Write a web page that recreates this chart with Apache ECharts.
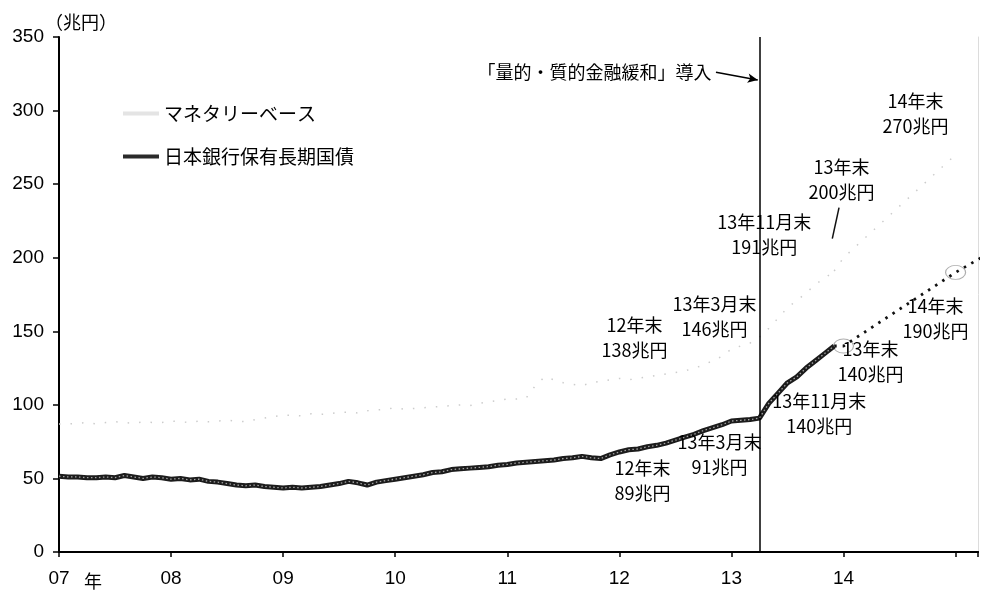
<!DOCTYPE html>
<html>
<head>
<meta charset="utf-8">
<script src="https://cdn.jsdelivr.net/npm/echarts@6/dist/echarts.min.js"></script>
<style>
html,body{margin:0;padding:0;background:#fff}
#chart{width:981px;height:593px}
</style>
</head>
<body>
<div id="chart"></div>
<script>
// Month-end balances in trillion yen, first value = end of Dec 2006
const startYear = 2006, startMonth = 12;

const monetaryBase = [
  87,
  87, 87.5, 88, 87, 88, 88.5, 88, 87.5, 88.5, 88, 88, 89,
  88.5, 88, 89, 88.5, 89, 89.5, 89, 88.5, 90, 91, 92, 93,
  93, 92.5, 94, 93.5, 94, 95, 95, 94.5, 96, 96.5, 97, 98,
  97, 97.5, 98, 98.5, 99, 99.5, 100, 99.5, 101, 102, 103, 104,
  104, 104.5, 113, 119, 117, 115, 114, 113, 115, 116, 117, 118,
  117, 118, 119, 120, 121, 122, 123, 125, 127, 130, 133, 138,
  140, 142, 146, 152, 159, 166, 171, 176, 182, 186, 191
];

const jgbHoldings = [
  51.5,
  51, 51, 50.5, 50.5, 51, 50.5, 52, 51, 50, 51, 50.5, 49.5,
  50, 49, 49.5, 48, 47.5, 46.5, 45.5, 45, 45.5, 44.5, 44, 43.5,
  44, 43.5, 44, 44.5, 45.5, 46.5, 48, 47, 45.5, 47.5, 48.5, 49.5,
  50.5, 51.5, 52.5, 54, 54.5, 56, 56.5, 57, 57.5, 58, 59, 59.5,
  60.5, 61, 61.5, 62, 62.5, 63.5, 64, 65, 64, 63.5, 66, 68,
  69.5, 70, 71.5, 72.5, 74, 76, 78, 80, 82.5, 84.5, 86.5, 89,
  89.5, 90, 91, 101, 108, 115, 119, 125, 130, 135, 140
];

// Targets under the new policy (month-end, trillion yen)
const mbTargetMonths  = ['2013-11', '2013-12', '2014-12'];
const mbTargetValues  = [191, 200, 270];
const jgbTargetMonths = ['2013-11', '2013-12', '2014-12', '2015-03'];
const jgbTargetValues = [140, 140, 190, 201];

// Annotated balances
const mbNoteMonths  = ['2012-12', '2013-03', '2013-11', '2013-12', '2014-12'];
const mbNoteTitles  = ['12年末', '13年3月末', '13年11月末', '13年末', '14年末'];
const mbNoteValues  = [138, 146, 191, 200, 270];
const jgbNoteMonths = ['2012-12', '2013-03', '2013-11', '2013-12', '2014-12'];
const jgbNoteTitles = ['12年末', '13年3月末', '13年11月末', '13年末', '14年末'];
const jgbNoteValues = [89, 91, 140, 140, 190];

const yearTicks = [2007, 2008, 2009, 2010, 2011, 2012, 2013, 2014];
const seriesNames = ['マネタリーベース', '日本銀行保有長期国債'];
const policyLabel = '「量的・質的金融緩和」導入';
const policyStart = 2013 + 93 / 365;   // 4 April 2013
const unitLabel = '（兆円）';
const yearSuffix = '年';

// ---- helpers ----
const FONT = "'Noto Sans CJK JP', 'Noto Sans', sans-serif";
const NUM_FONT = "'Liberation Sans', Arial, sans-serif";
const monthEnd = ym => { const [y, m] = ym.split('-').map(Number); return y + m / 12; };
const seriesPoints = arr => arr.map((v, i) => [startYear + (startMonth + i) / 12, v]);

// label placement (pixel offsets from each annotated point)
const mbNoteOffset  = [[-97, -11], [-45, -21], [-70, -36], [-2, -78], [-40, -41]];
const jgbNoteOffset = [[-89, 60], [-40, 37], [-15, 68], [27, 16], [-20, 46]];

function notes(months, titles, values, offsets) {
  return months.map((m, i) => ({
    coord: [monthEnd(m), values[i]],
    label: {
      formatter: titles[i] + '\n' + values[i] + '兆円',
      offset: offsets[i]
    }
  }));
}

const noteLabelStyle = {
  show: true, position: 'inside', color: '#000', fontFamily: FONT,
  fontSize: 18, lineHeight: 25, align: 'center', verticalAlign: 'middle'
};

// target points ringed by hand-drawn style circles
const circled = ['2013-12', '2014-12'];
const ringData = jgbTargetMonths
  .map((m, i) => [monthEnd(m), jgbTargetValues[i], m])
  .filter(p => circled.includes(p[2]))
  .map(p => [p[0], p[1]]);

const end13 = monthEnd('2013-12');
const arrowFrom = [2012.862, 326];
const arrowTo = [policyStart - 0.02, 320.8];

const chart = echarts.init(document.getElementById('chart'));
chart.setOption({
  animation: false,
  backgroundColor: '#fff',
  textStyle: { fontFamily: FONT },
  grid: { left: 59, right: 2, top: 37, bottom: 41 },
  legend: {
    data: [
      { name: seriesNames[0], icon: 'rect', itemStyle: { color: '#e4e4e4' } },
      { name: seriesNames[1], icon: 'rect', itemStyle: { color: '#2a2a2a' } }
    ],
    orient: 'vertical',
    left: 118, top: 99,
    itemWidth: 36, itemHeight: 4, itemGap: 24, itemTextGap: 3,
    textStyle: { fontSize: 19, color: '#000', fontFamily: FONT },
    selectedMode: false
  },
  xAxis: [{
    type: 'value', min: 2007, max: 2015.2, interval: 1,
    axisLine: { lineStyle: { color: '#000', width: 2 } },
    axisTick: { show: true, length: 5, lineStyle: { color: '#000', width: 1.5 } },
    axisLabel: {
      color: '#000', fontSize: 19, margin: 17, fontFamily: NUM_FONT,
      formatter: v => yearTicks.includes(v) ? String(v).slice(2) : ''
    },
    splitLine: { show: false }
  }, {
    type: 'value', position: 'top', min: 2007, max: 2015.2,
    axisLine: { show: true, lineStyle: { color: '#000', width: 2 } },
    axisTick: { show: false }, axisLabel: { show: false }, splitLine: { show: false }
  }],
  yAxis: [{
    type: 'value', min: 0, max: 350, interval: 50,
    axisLine: { show: true, lineStyle: { color: '#000', width: 2 } },
    axisTick: { show: true, length: 6, lineStyle: { color: '#000', width: 1.5 } },
    axisLabel: { color: '#000', fontSize: 19, margin: 15, fontFamily: NUM_FONT },
    splitLine: { show: false }
  }, {
    type: 'value', position: 'right', min: 0, max: 350,
    axisLine: { show: true, lineStyle: { color: '#dcdcdc', width: 1 } },
    axisTick: { show: false }, axisLabel: { show: false }, splitLine: { show: false }
  }],
  graphic: [
    { type: 'text', left: 45, top: 13, style: { text: unitLabel, font: '18px ' + FONT, fill: '#000' } },
    { type: 'text', left: 84, top: 572, style: { text: yearSuffix, font: '18px ' + FONT, fill: '#000' } }
  ],
  series: [
    {
      name: seriesNames[0], type: 'line', z: 2,
      data: seriesPoints(monetaryBase),
      showSymbol: false, symbol: 'none',
      color: '#cccccc',
      lineStyle: { color: '#cccccc', width: 1.5, type: [1.5, 10] },
      markPoint: {
        symbol: 'circle', symbolSize: 1, itemStyle: { color: 'transparent' },
        label: noteLabelStyle, silent: true,
        data: notes(mbNoteMonths, mbNoteTitles, mbNoteValues, mbNoteOffset)
      }
    },
    {
      name: 'mb-target', type: 'line', z: 2,
      data: mbTargetMonths.map((m, i) => [monthEnd(m), mbTargetValues[i]]),
      showSymbol: false, symbol: 'none',
      lineStyle: { color: '#cccccc', width: 1.5, type: [1.5, 10] },
      markLine: {
        silent: true, symbol: ['none', 'none'], label: { show: false },
        lineStyle: { color: '#111', width: 1.5, type: 'solid' },
        data: [[{ coord: [end13 - 0.04, 234] }, { coord: [end13 - 0.10, 213] }]]
      }
    },
    {
      name: seriesNames[1], type: 'line', z: 4,
      data: seriesPoints(jgbHoldings),
      showSymbol: false, symbol: 'none',
      color: '#1c1c1c',
      lineStyle: { color: '#1c1c1c', width: 5 },
      markPoint: {
        symbol: 'circle', symbolSize: 1, itemStyle: { color: 'transparent' },
        label: noteLabelStyle, silent: true,
        data: notes(jgbNoteMonths, jgbNoteTitles, jgbNoteValues, jgbNoteOffset).concat([{
          coord: arrowFrom,
          label: {
            formatter: policyLabel, position: 'left', distance: 4,
            align: 'right', offset: [0, 0], fontSize: 18
          }
        }])
      },
      markLine: {
        silent: true, label: { show: false },
        lineStyle: { color: '#000', width: 1.5, type: 'solid' },
        data: [
          [{ xAxis: policyStart, yAxis: 0, symbol: 'none' }, { xAxis: policyStart, yAxis: 350, symbol: 'none' }],
          [{ coord: arrowFrom, symbol: 'none' }, { coord: arrowTo, symbol: 'arrow', symbolSize: [7, 10] }]
        ]
      }
    },
    {
      // light speckle running along the thick line
      name: 'jgb-texture', type: 'line', z: 5, silent: true,
      data: seriesPoints(jgbHoldings),
      showSymbol: false, symbol: 'none',
      lineStyle: { color: '#ffffff', width: 1.3, type: [1.5, 2.5], opacity: 0.6 }
    },
    {
      name: 'jgb-target', type: 'line', z: 4,
      data: jgbTargetMonths.map((m, i) => [monthEnd(m), jgbTargetValues[i]]),
      showSymbol: false, symbol: 'none',
      lineStyle: { color: '#111', width: 2.8, type: [2.5, 6] }
    },
    {
      name: 'jgb-target-ring', type: 'scatter', z: 3, silent: true,
      data: ringData,
      symbol: 'circle', symbolSize: [20, 14],
      itemStyle: { color: 'rgba(255,255,255,0)', borderColor: '#9a9a9a', borderWidth: 1 }
    }
  ]
});
</script>
</body>
</html>
